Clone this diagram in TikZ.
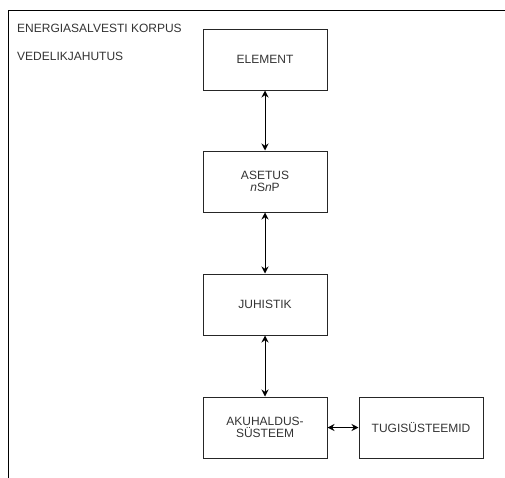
\documentclass[tikz,border=0pt]{standalone}
\usepackage{fontspec}
\setmainfont{Liberation Sans}
\usetikzlibrary{arrows.meta}
\definecolor{txt}{HTML}{333333}
\begin{document}
\begin{tikzpicture}[x=1pt,y=-1pt,
  box/.style={draw=black!85, line width=1pt, minimum width=124pt, minimum height=61pt, inner sep=0pt, align=center, text=txt, font=\fontsize{12}{13.5}\selectfont},
  lbl/.style={anchor=west, inner sep=0pt, text=txt, font=\fontsize{12}{13.5}\selectfont},
  conn/.style={line width=1pt, {Stealth[length=7pt,width=7pt]}-{Stealth[length=7pt,width=7pt]}}]
\useasboundingbox (0,0) rectangle (505,477);
\begin{scope}
\clip (0,0) rectangle (505,477);
\draw[line width=1pt] (8,490) -- (8,10) -- (520,10);
\end{scope}
\node[lbl] (t1) at (17,28) {ENERGIASALVESTI KORPUS};
\node[lbl] (t2) at (17,56) {VEDELIKJAHUTUS};
\node[box] (el) at (265,59.5) {ELEMENT};
\node[box] (as) at (265,181.5) {ASETUS\\[-1pt]\textit{n}S\textit{n}P};
\node[box] (ju) at (265,304.5) {JUHISTIK};
\node[box] (ak) at (265,427.5) {AKUHALDUS-\\[-1pt]SÜSTEEM};
\node[box] (tu) at (421,427.5) {TUGISÜSTEEMID};
\draw[conn] (el) -- (as);
\draw[conn] (as) -- (ju);
\draw[conn] (ju) -- (ak);
\draw[conn] (ak) -- (tu);
\end{tikzpicture}
\end{document}
